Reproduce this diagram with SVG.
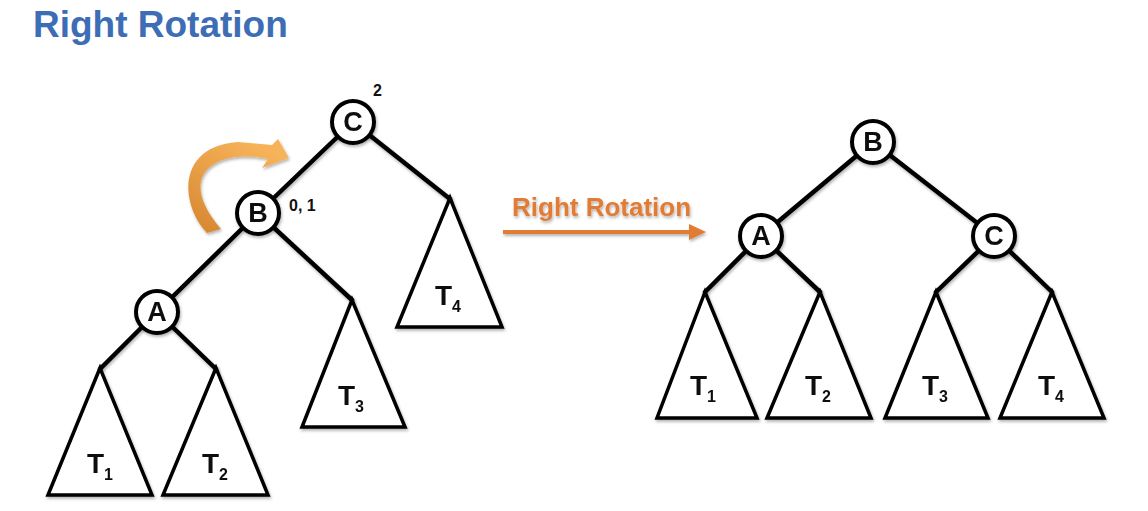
<svg xmlns="http://www.w3.org/2000/svg" width="1148" height="511" viewBox="0 0 1148 511">
<defs>
<style>
.edge{stroke:#000;stroke-width:4.5;fill:none;stroke-linecap:round}
.node circle{fill:#fff;stroke:#000;stroke-width:4}
.lbl{font-family:"Liberation Sans",Arial,sans-serif;font-weight:bold;font-size:27px;text-anchor:middle;fill:#111}
.tri polygon{fill:#fff;stroke:#000;stroke-width:3.5;stroke-linejoin:miter}
.tl{font-family:"Liberation Sans",Arial,sans-serif;font-weight:bold;font-size:28px;text-anchor:middle;fill:#111}
.sub{font-size:16px}
.note{font-family:"Liberation Sans",Arial,sans-serif;font-weight:bold;font-size:16px;fill:#111}
</style>
<filter id="sh" x="-20%" y="-20%" width="140%" height="140%">
<feDropShadow dx="1" dy="2" stdDeviation="1.5" flood-color="#000" flood-opacity="0.3"/>
</filter>
<linearGradient id="og" x1="0" y1="1" x2="0.6" y2="0">
<stop offset="0" stop-color="#D5852F"/>
<stop offset="1" stop-color="#F7B35A"/>
</linearGradient>
</defs>
<rect width="1148" height="511" fill="#fff"/>
<text x="33" y="37" font-family="'Liberation Sans',Arial,sans-serif" font-weight="bold" font-size="37" fill="#3C6DB5">Right Rotation</text>

<g id="connectors" filter="url(#sh)">
<line class="edge" x1="353" y1="122" x2="258" y2="213"/>
<line class="edge" x1="353" y1="122" x2="450" y2="199"/>
<line class="edge" x1="258" y1="213" x2="157" y2="312"/>
<line class="edge" x1="258" y1="213" x2="352" y2="300"/>
<line class="edge" x1="157" y1="312" x2="100" y2="369"/>
<line class="edge" x1="157" y1="312" x2="216" y2="369"/>
<line class="edge" x1="873" y1="142" x2="761" y2="236"/>
<line class="edge" x1="873" y1="142" x2="994" y2="236"/>
<line class="edge" x1="761" y1="236" x2="705" y2="292"/>
<line class="edge" x1="761" y1="236" x2="820" y2="292"/>
<line class="edge" x1="994" y1="236" x2="936" y2="292"/>
<line class="edge" x1="994" y1="236" x2="1052" y2="292"/>
</g>

<g id="left-T1" class="tri" filter="url(#sh)"><polygon points="100,368 48,495 152,495"/><text class="tl" x="100" y="473">T<tspan class="sub" dy="7">1</tspan></text></g>
<g id="left-T2" class="tri" filter="url(#sh)"><polygon points="216,368 163,495 268,495"/><text class="tl" x="215" y="473">T<tspan class="sub" dy="7">2</tspan></text></g>
<g id="left-T3" class="tri" filter="url(#sh)"><polygon points="352,300 302,427 405,427"/><text class="tl" x="351" y="405">T<tspan class="sub" dy="7">3</tspan></text></g>
<g id="left-T4" class="tri" filter="url(#sh)"><polygon points="450,198 397,327 502,327"/><text class="tl" x="448" y="305">T<tspan class="sub" dy="7">4</tspan></text></g>

<g id="left-C" class="node" filter="url(#sh)"><circle cx="353" cy="122" r="21"/><text class="lbl" x="353" y="131">C</text></g>
<g id="left-B" class="node" filter="url(#sh)"><circle cx="258" cy="213" r="21"/><text class="lbl" x="258" y="222">B</text></g>
<g id="left-A" class="node" filter="url(#sh)"><circle cx="157" cy="312" r="21"/><text class="lbl" x="157" y="321">A</text></g>
<text class="note" x="373" y="96">2</text>
<text class="note" x="289" y="211">0, 1</text>

<g id="curved-arrow" filter="url(#sh)">
<path d="M207,233 C180,205 176,146 238,142 L272,145 L278,139 L289,158 L262,168 L268,159 C220,148 172,172 221,229 Z" fill="url(#og)"/>
</g>

<g id="rotation-arrow" filter="url(#sh)">
<text x="512" y="216" font-family="'Liberation Sans',Arial,sans-serif" font-weight="bold" font-size="26" fill="#E27B36">Right Rotation</text>
<line x1="503" y1="232" x2="692" y2="232" stroke="#E27B36" stroke-width="4"/>
<polygon points="689,224 706,232 689,240" fill="#E27B36"/>
</g>

<g id="right-T1" class="tri" filter="url(#sh)"><polygon points="705,292 657,418 757,418"/><text class="tl" x="703" y="395">T<tspan class="sub" dy="7">1</tspan></text></g>
<g id="right-T2" class="tri" filter="url(#sh)"><polygon points="820,292 767,418 871,418"/><text class="tl" x="818" y="395">T<tspan class="sub" dy="7">2</tspan></text></g>
<g id="right-T3" class="tri" filter="url(#sh)"><polygon points="936,292 885,418 988,418"/><text class="tl" x="935" y="395">T<tspan class="sub" dy="7">3</tspan></text></g>
<g id="right-T4" class="tri" filter="url(#sh)"><polygon points="1052,292 1000,418 1104,418"/><text class="tl" x="1051" y="395">T<tspan class="sub" dy="7">4</tspan></text></g>

<g id="right-B" class="node" filter="url(#sh)"><circle cx="873" cy="142" r="21"/><text class="lbl" x="873" y="151">B</text></g>
<g id="right-A" class="node" filter="url(#sh)"><circle cx="761" cy="236" r="21"/><text class="lbl" x="761" y="245">A</text></g>
<g id="right-C" class="node" filter="url(#sh)"><circle cx="994" cy="236" r="21"/><text class="lbl" x="994" y="245">C</text></g>
</svg>
